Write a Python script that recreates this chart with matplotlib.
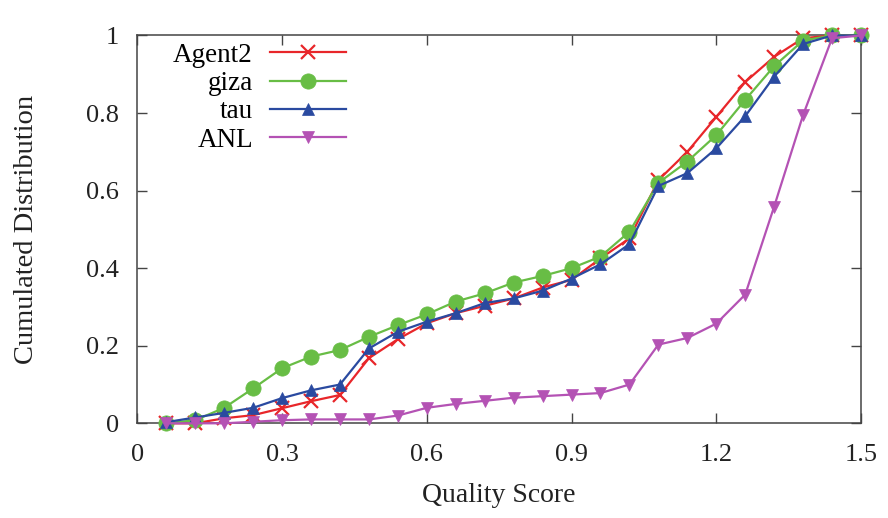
import matplotlib
matplotlib.use("Agg")
import matplotlib.pyplot as plt

quality = [0.06, 0.12, 0.18, 0.24, 0.30, 0.36, 0.42, 0.48, 0.54, 0.60, 0.66, 0.72,
           0.78, 0.84, 0.90, 0.96, 1.02, 1.08, 1.14, 1.20, 1.26, 1.32, 1.38, 1.44, 1.50]

agent2 = [0.0, 0.0, 0.013, 0.021, 0.039, 0.057, 0.073, 0.168, 0.217, 0.258, 0.284, 0.303,
          0.322, 0.350, 0.370, 0.425, 0.477, 0.627, 0.700, 0.790, 0.880, 0.945, 0.993, 1.0, 1.0]
giza = [0.0, 0.008, 0.04, 0.09, 0.142, 0.172, 0.189, 0.223, 0.253, 0.281, 0.314, 0.335,
        0.363, 0.380, 0.400, 0.430, 0.494, 0.620, 0.675, 0.743, 0.834, 0.921, 0.987, 1.0, 1.0]
tau = [0.003, 0.015, 0.027, 0.04, 0.065, 0.085, 0.10, 0.193, 0.236, 0.262, 0.284, 0.310,
       0.322, 0.342, 0.373, 0.410, 0.462, 0.612, 0.645, 0.709, 0.792, 0.894, 0.978, 1.0, 1.0]
anl = [0.0, 0.0, 0.0, 0.004, 0.008, 0.01, 0.01, 0.01, 0.02, 0.04, 0.05, 0.058,
       0.066, 0.070, 0.074, 0.078, 0.10, 0.203, 0.220, 0.257, 0.332, 0.559, 0.795, 0.993, 1.0]

series_names = ["Agent2", "giza", "tau", "ANL"]
series_values = [agent2, giza, tau, anl]
colors = ["#e8262a", "#68bd45", "#2a4aa0", "#b452b4"]
markers = ["x", "o", "^", "v"]
msizes = [10, 11, 9, 9]

x_ticks = [0, 0.3, 0.6, 0.9, 1.2, 1.5]
x_tick_labels = ["0", "0.3", "0.6", "0.9", "1.2", "1.5"]
y_ticks = [0, 0.2, 0.4, 0.6, 0.8, 1.0]
y_tick_labels = ["0", "0.2", "0.4", "0.6", "0.8", "1"]

plt.rcParams['font.family'] = ['Liberation Serif', 'DejaVu Serif']

fig = plt.figure(figsize=(8.88, 5.18), dpi=100)
ax = fig.add_axes([0.1547, 0.1828, 0.8149, 0.7487])

for name, vals, c, m, ms in zip(series_names, series_values, colors, markers, msizes):
    ax.plot(quality, vals, color=c, marker=m, markersize=ms, linewidth=1.6,
            markeredgewidth=1.6 if m == "x" else 0.5, markeredgecolor=c, label=name,
            clip_on=False, zorder=3)

ax.set_xlim(0, 1.5)
ax.set_ylim(0, 1)
ax.set_xticks(x_ticks)
ax.set_xticklabels(x_tick_labels)
ax.set_yticks(y_ticks)
ax.set_yticklabels(y_tick_labels)
ax.tick_params(direction="in", top=True, right=True, labelsize=19, length=7,
               width=1, color="#444444", labelcolor="#222222")
ax.tick_params(axis="x", pad=15)
ax.tick_params(axis="y", pad=13)
for s in ax.spines.values():
    s.set_color("#444444")
    s.set_linewidth(1.1)

ax.set_xlabel("Quality Score", fontsize=20, labelpad=12, color="#222222")
ax.set_ylabel("Cumulated Distribution", fontsize=20.5, labelpad=34, color="#222222")

leg = ax.legend(loc="upper right", frameon=False, markerfirst=False, fontsize=19.5,
                handlelength=2.8, handletextpad=0.63, labelspacing=0.12,
                borderpad=0, borderaxespad=0, bbox_to_anchor=(0.288, 0.981))

fig.savefig("out.png", dpi=100)
